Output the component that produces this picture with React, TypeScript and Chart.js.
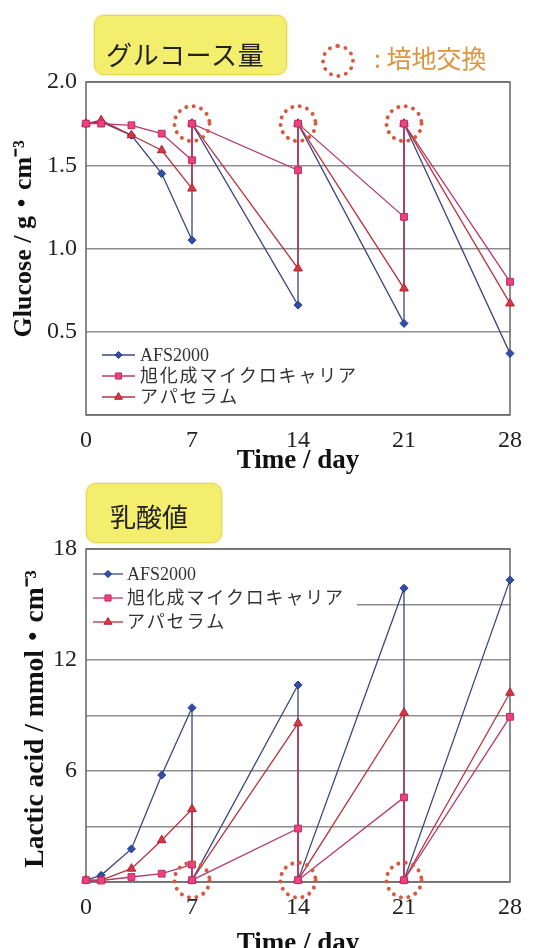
import React, { useEffect, useRef } from 'react';
import { Chart, registerables } from 'chart.js';

Chart.register(...registerables);

// ---------------- data ----------------
const days = [0, 1, 3, 5, 7, 7, 14, 14, 21, 21, 28];
const exchangeDays = [7, 14, 21];
const dayTicks = [0, 7, 14, 21, 28];
const seriesNames = ['AFS2000', '旭化成マイクロキャリア', 'アパセラム'];

const glucoseAFS = [1.75, 1.76, 1.68, 1.45, 1.05, 1.75, 0.66, 1.75, 0.55, 1.75, 0.37];
const glucoseAsahi = [1.75, 1.75, 1.74, 1.69, 1.53, 1.75, 1.47, 1.75, 1.19, 1.75, 0.8];
const glucoseApa = [1.75, 1.77, 1.68, 1.59, 1.36, 1.75, 0.88, 1.75, 0.76, 1.75, 0.67];
const glucoseTicks = [0, 0.5, 1.0, 1.5, 2.0];
const glucoseTickLabels = ['', '0.5', '1.0', '1.5', '2.0'];

const lacticAFS = [0.1, 0.36, 1.79, 5.78, 9.42, 0.1, 10.65, 0.1, 15.88, 0.1, 16.33];
const lacticAsahi = [0.1, 0.08, 0.27, 0.45, 0.94, 0.1, 2.89, 0.1, 4.57, 0.1, 8.93];
const lacticApa = [0.1, 0.1, 0.72, 2.26, 3.94, 0.1, 8.58, 0.1, 9.15, 0.1, 10.23];
const lacticTicks = [0, 3, 6, 9, 12, 15, 18];
const lacticTickLabels = ['', '', '6', '', '12', '', '18'];

// ---------------- styles ----------------
const SERIF = '"Liberation Serif", "Times New Roman", "Noto Sans CJK JP", serif';
const CJK = '"Noto Sans CJK JP", "Noto Sans", sans-serif';
const seriesStyles = [
  { line: '#3c4780', fill: '#2f4fa8', stroke: '#26398a', point: 'rectRot', radius: 4, order: 2, spacing: 0 },
  { line: '#b53a6c', fill: '#ea437f', stroke: '#c22a60', point: 'rect', radius: 4.8, order: 0, spacing: 1.8 },
  { line: '#b8323f', fill: '#d93646', stroke: '#b3202f', point: 'triangle', radius: 5, order: 1, spacing: 1.8 },
];
const CIRCLE_COLOR = '#d65a40';

function drawMarker(ctx: CanvasRenderingContext2D, style: string, x: number, y: number, r: number) {
  ctx.beginPath();
  if (style === 'rectRot') {
    ctx.moveTo(x, y - r);
    ctx.lineTo(x + r, y);
    ctx.lineTo(x, y + r);
    ctx.lineTo(x - r, y);
    ctx.closePath();
  } else if (style === 'rect') {
    const s = r * Math.SQRT1_2;
    ctx.rect(x - s, y - s, 2 * s, 2 * s);
  } else {
    let a = 0;
    ctx.moveTo(x + Math.sin(a) * r, y - Math.cos(a) * r);
    a += (2 * Math.PI) / 3;
    ctx.lineTo(x + Math.sin(a) * r, y - Math.cos(a) * r);
    a += (2 * Math.PI) / 3;
    ctx.lineTo(x + Math.sin(a) * r, y - Math.cos(a) * r);
    ctx.closePath();
  }
  ctx.fill();
  ctx.stroke();
}

type Opts = {
  id: string;
  values: number[][];
  yMax: number;
  yTicks: number[];
  yTickLabels: string[];
  yTitle: string;
  yTitleSize: number;
  yTitlePad: number;
  padTop: number;
  xAxisHeight: number;
  xTitlePad: number;
  legendYs: number[];
  legendX0: number;
  legendX1: number;
  legendTextX: number;
  legendBg: number[] | null;
};

function makeConfig(o: Opts): any {
  const datasets = o.values.map((vals, i) => ({
    label: seriesNames[i],
    data: days.map((d, k) => ({ x: d, y: vals[k] })),
    showLine: true,
    borderColor: seriesStyles[i].line,
    borderWidth: 1.3,
    pointStyle: seriesStyles[i].point,
    pointRadius: seriesStyles[i].radius,
    pointBackgroundColor: seriesStyles[i].fill,
    pointBorderColor: seriesStyles[i].stroke,
    pointBorderWidth: 1,
    order: seriesStyles[i].order,
    tension: 0,
    fill: false,
    clip: false,
  }));

  const framePlugin = {
    id: o.id + 'frame',
    beforeDatasetsDraw(chart: any) {
      const { ctx, chartArea: a } = chart;
      ctx.save();
      ctx.strokeStyle = '#666';
      ctx.lineWidth = 1.5;
      ctx.strokeRect(a.left, a.top, a.right - a.left, a.bottom - a.top);
      ctx.restore();
    },
  };

  const circlePlugin = {
    id: o.id + 'circles',
    afterDatasetsDraw(chart: any) {
      const { ctx } = chart;
      const xs = chart.scales.x;
      const ys = chart.scales.y;
      ctx.save();
      ctx.strokeStyle = CIRCLE_COLOR;
      ctx.lineWidth = 4;
      ctx.lineCap = 'round';
      ctx.setLineDash([0.01, 7.6]);
      exchangeDays.forEach((d) => {
        const idx = days.lastIndexOf(d);
        const level = o.values[1][idx];
        const px = xs.getPixelForValue(d);
        const py = ys.getPixelForValue(level);
        ctx.beginPath();
        ctx.arc(px, py, 17.5, 0, Math.PI * 2);
        ctx.stroke();
      });
      ctx.restore();
    },
  };

  const legendPlugin = {
    id: o.id + 'legend',
    afterDatasetsDraw(chart: any) {
      const { ctx } = chart;
      ctx.save();
      if (o.legendBg) {
        ctx.fillStyle = '#fff';
        ctx.fillRect(o.legendBg[0], o.legendBg[1], o.legendBg[2], o.legendBg[3]);
      }
      seriesNames.forEach((name, i) => {
        const st = seriesStyles[i];
        const y = o.legendYs[i];
        ctx.strokeStyle = st.line;
        ctx.lineWidth = 1.3;
        ctx.setLineDash([]);
        ctx.beginPath();
        ctx.moveTo(o.legendX0, y);
        ctx.lineTo(o.legendX1, y);
        ctx.stroke();
        ctx.fillStyle = st.fill;
        ctx.strokeStyle = st.stroke;
        ctx.lineWidth = 1;
        drawMarker(ctx, st.point, (o.legendX0 + o.legendX1) / 2, y, st.radius * 0.9);
        ctx.fillStyle = '#333';
        ctx.textBaseline = 'middle';
        ctx.textAlign = 'left';
        (ctx as any).letterSpacing = st.spacing + 'px';
        ctx.font = '18px ' + SERIF;
        ctx.fillText(name, o.legendTextX, y + 1);
        (ctx as any).letterSpacing = '0px';
      });
      ctx.restore();
    },
  };

  return {
    type: 'scatter',
    data: { datasets },
    options: {
      responsive: false,
      animation: false,
      devicePixelRatio: 1,
      layout: { padding: { left: 0, right: 23, top: o.padTop, bottom: 2 } },
      plugins: { legend: { display: false }, tooltip: { enabled: false } },
      scales: {
        x: {
          type: 'linear',
          min: 0,
          max: 28,
          afterBuildTicks: (s: any) => {
            s.ticks = dayTicks.map((v) => ({ value: v }));
          },
          afterFit: (s: any) => {
            s.height = o.xAxisHeight;
          },
          grid: { display: false, drawTicks: false },
          border: { display: false },
          ticks: {
            font: { family: SERIF, size: 24 },
            color: '#222',
            padding: 11,
            maxRotation: 0,
            autoSkip: false,
            callback: (v: any) => String(v),
          },
          title: {
            display: true,
            text: 'Time / day',
            font: { family: SERIF, size: 27, weight: 'bold' },
            color: '#111',
            padding: { top: 0, bottom: o.xTitlePad },
          },
        },
        y: {
          type: 'linear',
          min: 0,
          max: o.yMax,
          afterBuildTicks: (s: any) => {
            s.ticks = o.yTicks.map((v) => ({ value: v }));
          },
          afterFit: (s: any) => {
            s.width = 86;
          },
          grid: { color: '#8e8e8e', lineWidth: 1.4, drawTicks: false },
          border: { display: false },
          ticks: {
            font: { family: SERIF, size: 24 },
            color: '#222',
            padding: 9,
            autoSkip: false,
            callback: (v: any) => {
              const i = o.yTicks.indexOf(v);
              return i >= 0 ? o.yTickLabels[i] : '';
            },
          },
          title: {
            display: true,
            text: o.yTitle,
            font: { family: SERIF, size: o.yTitleSize, weight: 'bold' },
            color: '#111',
            padding: { top: o.yTitlePad, bottom: 0 },
          },
        },
      },
    },
    plugins: [framePlugin, circlePlugin, legendPlugin],
  };
}

function ChartCanvas({ config, top, height }: { config: any; top: number; height: number }) {
  const ref = useRef<HTMLCanvasElement>(null);
  useEffect(() => {
    const chart = new Chart(ref.current as HTMLCanvasElement, config);
    return () => chart.destroy();
  }, []);
  return (
    <canvas
      ref={ref}
      width={533}
      height={height}
      style={{ position: 'absolute', left: 0, top, width: 533, height, display: 'block' }}
    />
  );
}

const glucoseConfig = makeConfig({
  id: 'glu',
  values: [glucoseAFS, glucoseAsahi, glucoseApa],
  yMax: 2.0,
  yTicks: glucoseTicks,
  yTickLabels: glucoseTickLabels,
  yTitle: '   Glucose / g・cm⁻³',
  yTitleSize: 26,
  yTitlePad: 8.6,
  padTop: 82,
  xAxisHeight: 63,
  xTitlePad: 1,
  legendYs: [355, 376, 397],
  legendX0: 102,
  legendX1: 135,
  legendTextX: 140,
  legendBg: null,
});

const lacticConfig = makeConfig({
  id: 'lac',
  values: [lacticAFS, lacticAsahi, lacticApa],
  yMax: 18,
  yTicks: lacticTicks,
  yTickLabels: lacticTickLabels,
  yTitle: 'Lactic acid / mmol・cm⁻³ ',
  yTitleSize: 27.5,
  yTitlePad: 19.5,
  padTop: 79,
  xAxisHeight: 82,
  xTitlePad: 3.5,
  legendYs: [104, 128, 152],
  legendX0: 93,
  legendX1: 123,
  legendTextX: 127,
  legendBg: [87, 92, 270, 74],
});

const boxStyle: React.CSSProperties = {
  position: 'absolute',
  background: '#f4ee6e',
  border: '1.5px solid #e3d84e',
  borderRadius: 10,
  boxShadow: '0 0 3px rgba(200,190,40,0.6)',
  boxSizing: 'border-box',
};

export default function App() {
  return (
    <div
      style={{
        position: 'absolute',
        left: 0,
        top: 0,
        width: 533,
        height: 948,
        overflow: 'hidden',
        background: '#fff',
      }}
    >
      <ChartCanvas config={glucoseConfig} top={0} height={480} />
      <ChartCanvas config={lacticConfig} top={470} height={496} />

      <div style={{ ...boxStyle, left: 94, top: 15, width: 193, height: 60 }} />
      <div
        style={{
          position: 'absolute',
          left: 106,
          top: 41,
          fontFamily: CJK,
          fontSize: 26,
          lineHeight: '26px',
          letterSpacing: 0.7,
          color: '#222',
          whiteSpace: 'nowrap',
        }}
      >
        グルコース量
      </div>

      <div
        style={{
          position: 'absolute',
          left: 321,
          top: 44,
          width: 34,
          height: 34,
          borderRadius: '50%',
          border: '4px dotted ' + CIRCLE_COLOR,
          boxSizing: 'border-box',
        }}
      />
      <div
        style={{
          position: 'absolute',
          left: 374,
          top: 45,
          fontFamily: CJK,
          fontSize: 25,
          lineHeight: '25px',
          color: '#d9963f',
          whiteSpace: 'nowrap',
        }}
      >
        : 培地交換
      </div>

      <div style={{ ...boxStyle, left: 86, top: 483, width: 136, height: 60 }} />
      <div
        style={{
          position: 'absolute',
          left: 110,
          top: 503,
          fontFamily: CJK,
          fontSize: 26,
          lineHeight: '26px',
          color: '#222',
          whiteSpace: 'nowrap',
        }}
      >
        乳酸値
      </div>
    </div>
  );
}
